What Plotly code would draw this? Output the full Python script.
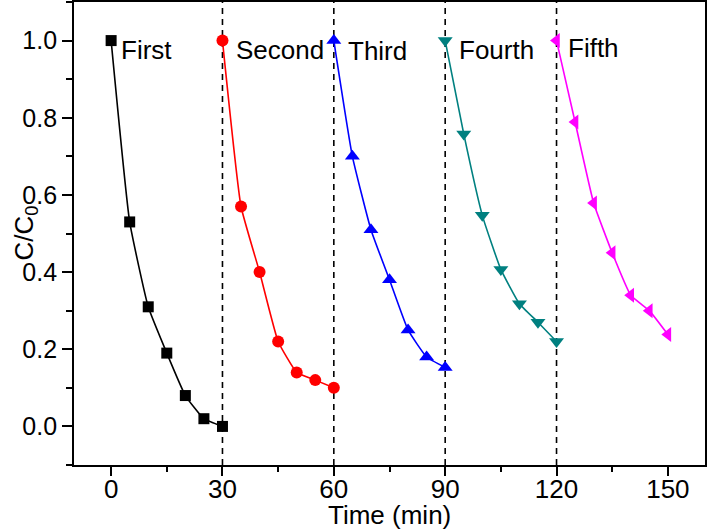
import plotly.graph_objects as go

time_first = [0, 5, 10, 15, 20, 25, 30]
first = [1.0, 0.53, 0.31, 0.19, 0.08, 0.02, 0.0]
time_second = [30, 35, 40, 45, 50, 55, 60]
second = [1.0, 0.57, 0.40, 0.22, 0.14, 0.12, 0.10]
time_third = [60, 65, 70, 75, 80, 85, 90]
third = [1.0, 0.70, 0.51, 0.38, 0.25, 0.18, 0.153]
time_fourth = [90, 95, 100, 105, 110, 115, 120]
fourth = [1.0, 0.758, 0.547, 0.407, 0.318, 0.27, 0.22]
time_fifth = [120, 125, 130, 135, 140, 145, 150]
fifth = [1.0, 0.789, 0.579, 0.45, 0.34, 0.30, 0.238]

cycle_names = ["First", "Second", "Third", "Fourth", "Fifth"]
label_x = [2.0, 33.2, 63.4, 93.3, 122.6]
label_y = [0.975, 0.975, 0.972, 0.975, 0.98]
divider_times = [30, 60, 90, 120]

x_ticks = [0, 30, 60, 90, 120, 150]
y_ticks = [0.0, 0.2, 0.4, 0.6, 0.8, 1.0]

series = [
    (time_first, first, "black", "square", 11),
    (time_second, second, "red", "circle", 12),
    (time_third, third, "blue", "triangle-up", 13),
    (time_fourth, fourth, "#008080", "triangle-down", 13),
    (time_fifth, fifth, "#FF00FF", "triangle-left", 13),
]

fig = go.Figure()
for (xs, ys, col, sym, sz), name in zip(series, cycle_names):
    fig.add_trace(go.Scatter(
        x=xs, y=ys, mode="lines+markers", name=name,
        line=dict(color=col, width=1.6, shape="spline", smoothing=0.4),
        marker=dict(color=col, symbol=sym, size=sz, line=dict(width=0)),
        showlegend=False,
    ))

for t in divider_times:
    fig.add_shape(type="line", x0=t, x1=t, xref="x", y0=0, y1=1, yref="paper",
                  line=dict(color="black", width=1.6, dash="6px,5px"), layer="below")

for name, lx, ly in zip(cycle_names, label_x, label_y):
    fig.add_annotation(x=lx, y=ly, text=name, showarrow=False, xanchor="left",
                       yanchor="middle", font=dict(size=26, color="black"))

font_family = "Liberation Sans, Arial, sans-serif"
fig.update_layout(
    width=709, height=529,
    margin=dict(l=74, r=4, t=2, b=64),
    paper_bgcolor="white", plot_bgcolor="white",
    font=dict(family=font_family, color="black"),
)
fig.update_xaxes(
    range=[-10, 160], tickvals=x_ticks, ticktext=[str(v) for v in x_ticks],
    ticks="outside", ticklen=9, tickwidth=1.6, tickcolor="black",
    minor=dict(dtick=15, tick0=0, ticks="outside", ticklen=5, tickwidth=1.6, tickcolor="black", showgrid=False),
    showline=True, linecolor="black", linewidth=1.8, mirror=True,
    showgrid=False, zeroline=False, automargin=False,
    tickfont=dict(size=26), ticklabelstandoff=-9,
)
fig.update_yaxes(
    range=[-0.1, 1.1], tickvals=y_ticks, ticktext=[f"{v:.1f}" for v in y_ticks],
    ticks="outside", ticklen=10, tickwidth=1.6, tickcolor="black",
    minor=dict(dtick=0.1, tick0=0, ticks="outside", ticklen=6, tickwidth=1.6, tickcolor="black", showgrid=False),
    showline=True, linecolor="black", linewidth=1.8, mirror=True,
    showgrid=False, zeroline=False, automargin=False,
    tickfont=dict(size=25),
)
# axis titles placed as paper annotations for exact positioning
fig.add_annotation(x=0.5, xref="paper", y=0, yref="paper", yshift=-50,
                   text="Time (min)", showarrow=False, xanchor="center", yanchor="middle",
                   font=dict(size=26, color="black"))
fig.add_annotation(x=0, xref="paper", xshift=-49, y=0.5, yref="paper",
                   text="C/C<sub>0</sub>", showarrow=False, textangle=-90,
                   xanchor="center", yanchor="middle", font=dict(size=26, color="black"))

fig.write_html("out.html", config={"displayModeBar": False},
               post_script="document.body.style.margin='0';document.body.style.padding='0';")
